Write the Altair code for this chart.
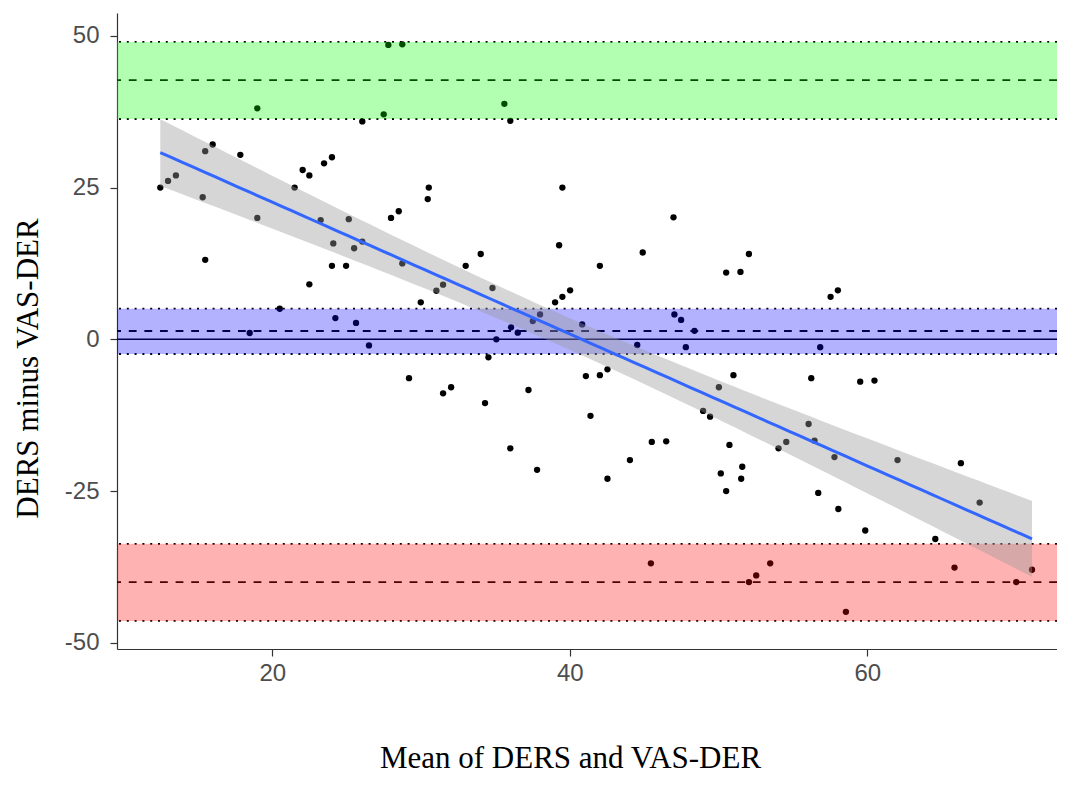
import altair as alt
import pandas as pd
import numpy as np

# ---- data ----
mean_vals = [27.8, 28.74, 18.99, 27.49, 35.6, 36.0, 26.05, 15.99, 15.49, 17.85,
             12.47, 12.99, 13.52, 15.32, 18.99, 15.49, 22.04, 22.49, 21.5, 23.48,
             24.01, 23.25, 25.14, 24.1, 25.5, 26.05, 24.01, 24.96, 22.49, 27.98,
             28.5, 30.52, 30.45, 28.74, 31.03, 31.48, 29.98, 20.5, 24.24, 25.63,
             18.48, 26.5, 39.5, 46.97, 39.28, 34.01, 33.0, 42.02, 44.9, 52.04,
             50.51, 51.47, 34.8, 39.01, 39.5, 40.02, 38.0, 37.51, 40.83, 36.05,
             36.5, 35.06, 47.03, 47.48, 48.38, 44.53, 47.8, 58.02, 57.53, 56.83,
             29.19, 31.48, 34.53, 32.02, 34.3, 37.22, 36.0, 37.8, 41.08, 42.02,
             42.53, 41.39, 51.0, 50.02, 48.96, 49.43, 45.51, 46.48, 44.04, 42.53,
             50.73, 51.59, 51.52, 50.15, 50.51, 45.45, 52.04, 52.53, 53.47, 56.23,
             59.52, 60.48, 56.05, 54.55, 54.03, 56.45, 57.79, 62.03, 66.29, 56.7,
             58.05, 59.86, 64.57, 67.55, 65.86, 70.01, 71.07, 58.56]
diff_vals = [48.5, 48.6, 38.06, 37.07, 38.8, 36.0, 35.9, 32.1, 31.0, 30.4,
             25.0, 26.1, 27.0, 23.4, 20.0, 13.1, 27.9, 27.0, 25.0, 29.0,
             30.0, 19.65, 19.8, 15.8, 15.0, 16.1, 12.1, 12.1, 9.06, 20.0,
             21.1, 25.0, 23.1, 12.5, 8.0, 9.0, 6.1, 5.04, 3.5, 2.7,
             1.04, -1.0, 25.0, 20.1, 15.5, 14.05, 12.1, 12.1, 14.3, 14.05,
             11.0, 11.1, 8.45, 6.1, 7.0, 8.07, 4.1, 3.0, 2.46, 1.98,
             1.1, 0.0, 4.1, 3.2, 1.4, -0.94, -1.3, 8.07, 7.0, -1.3,
             -6.4, -8.9, -2.97, -7.9, -10.5, -8.35, -17.96, -21.5, -6.05, -5.9,
             -4.95, -12.6, -5.9, -7.9, -11.8, -12.75, -16.9, -16.8, -19.9, -22.97,
             -17.4, -21.0, -22.97, -22.1, -25.0, -36.9, -40.0, -38.9, -36.9, -6.4,
             -6.98, -6.8, -13.95, -16.9, -17.96, -16.7, -19.4, -19.9, -20.4, -25.3,
             -27.96, -31.5, -32.9, -26.9, -37.6, -40.0, -37.96, -44.9]

band_names = ["upper", "bias", "lower"]
band_low = [36.3, -2.42, -46.4]
band_high = [49.0, 5.04, -33.7]
band_mid = [42.7, 1.37, -40.0]
band_colors = ["#00ff00", "#0000ff", "#ff0000"]

x_ticks = [20, 40, 60]
y_ticks = [-50, -25, 0, 25, 50]

# ---- tables ----
pts = pd.DataFrame({"m": mean_vals, "d": diff_vals})
bands = pd.DataFrame({"name": band_names, "lo": band_low, "hi": band_high,
                      "mid": band_mid, "col": band_colors})
dotted = pd.DataFrame({"v": band_low + band_high})
zero = pd.DataFrame({"v": [0]})

# linear fit with 95% confidence band (computed from the points)
x = np.array(mean_vals)
y = np.array(diff_vals)
n = len(x)
b, a = np.polyfit(x, y, 1)
res = y - (a + b * x)
s = np.sqrt(np.sum(res ** 2) / (n - 2))
xbar = x.mean()
sxx = np.sum((x - xbar) ** 2)
xs = np.linspace(x.min(), x.max(), 80)
fit = a + b * xs
se = s * np.sqrt(1.0 / n + (xs - xbar) ** 2 / sxx)
t = 1.98
fitdf = pd.DataFrame({"m": xs, "fit": fit, "lo": fit - t * se, "hi": fit + t * se})

W, H = 940, 636
xscale = alt.Scale(domain=[9.56, 72.75], nice=False, zero=False)
yscale = alt.Scale(domain=[-51.02, 53.76], nice=False, zero=False)

hyphen = "datum.value < 0 ? '-' + abs(datum.value) : '' + datum.value"

xaxis = alt.Axis(values=x_ticks, title="Mean of DERS and VAS-DER", grid=False,
                 domainColor="#333333", domainWidth=1.2, tickColor="#333333",
                 tickWidth=1.2, tickSize=7, labelFont="Liberation Sans",
                 labelFontSize=24, labelColor="#4d4d4d", labelPadding=5,
                 titleFont="Liberation Serif", titleFontSize=31,
                 titleFontWeight="normal", titleColor="black",
                 titleX=453, titleY=118, titleBaseline="alphabetic",
                 titleAlign="center", labelFlush=False)
yaxis = alt.Axis(values=y_ticks, title="DERS minus VAS-DER", grid=False,
                 labelExpr=hyphen,
                 domainColor="#333333", domainWidth=1.2, tickColor="#333333",
                 tickWidth=1.2, tickSize=7, labelFont="Liberation Sans",
                 labelFontSize=24, labelColor="#4d4d4d", labelPadding=11,
                 titleFont="Liberation Serif", titleFontSize=31,
                 titleFontWeight="normal", titleColor="black",
                 titleX=-89, titleY=355, titleAngle=-90,
                 titleBaseline="middle", titleAlign="center", labelFlush=False)

points = alt.Chart(pts).mark_circle(size=40, color="black", opacity=1).encode(
    x=alt.X("m:Q", scale=xscale, axis=xaxis),
    y=alt.Y("d:Q", scale=yscale, axis=yaxis),
)

dashed = alt.Chart(bands).mark_rule(color="black", strokeWidth=1.8,
                                    strokeDash=[7.8, 7.8]).encode(
    y=alt.Y("mid:Q", scale=yscale)
)
dots = alt.Chart(dotted).mark_rule(color="black", strokeWidth=1.8,
                                   strokeDash=[2, 5.8]).encode(
    y=alt.Y("v:Q", scale=yscale)
)
zline = alt.Chart(zero).mark_rule(color="black", strokeWidth=1.6).encode(
    y=alt.Y("v:Q", scale=yscale)
)

rects = alt.Chart(bands).mark_rect(opacity=0.3).encode(
    x=alt.value(0), x2=alt.value(W),
    y=alt.Y("hi:Q", scale=yscale), y2="lo:Q",
    color=alt.Color("col:N", scale=None),
)

ribbon = alt.Chart(fitdf).mark_area(color="#999999", opacity=0.4).encode(
    x=alt.X("m:Q", scale=xscale), y=alt.Y("hi:Q", scale=yscale), y2="lo:Q"
)
line = alt.Chart(fitdf).mark_line(color="#3366FF", strokeWidth=3).encode(
    x=alt.X("m:Q", scale=xscale), y=alt.Y("fit:Q", scale=yscale)
)

chart = alt.layer(points, dashed, dots, zline, rects, ribbon, line).properties(
    width=W, height=H,
    background="white",
    autosize=alt.AutoSizeParams(type="none"),
    padding={"left": 109, "top": 5, "right": 0, "bottom": 125},
).configure_view(stroke="transparent", strokeWidth=0)

chart.save("out.html", embed_options={"renderer": "svg", "actions": False})
